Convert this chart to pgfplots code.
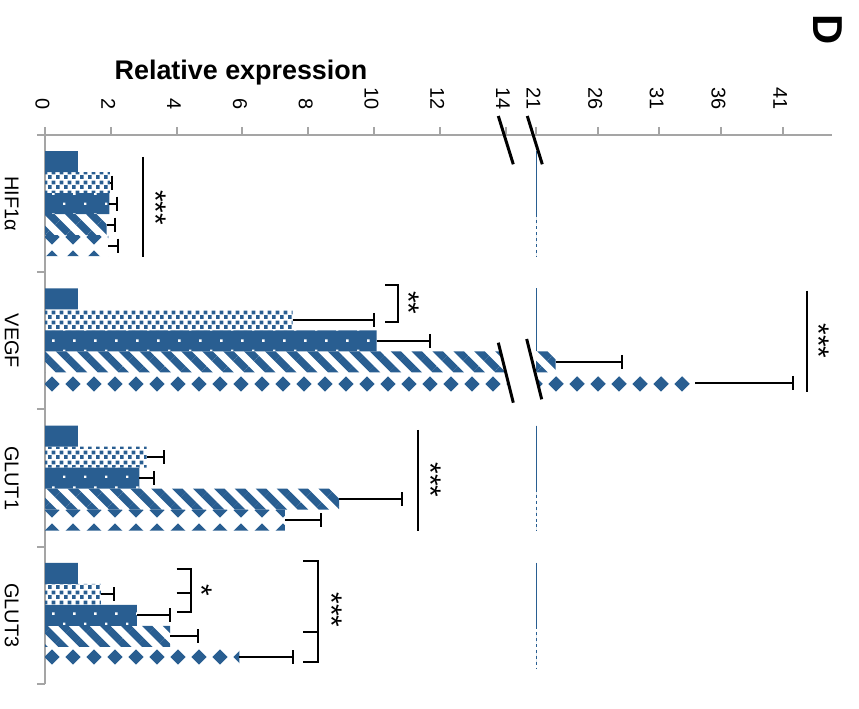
\documentclass[border=0pt]{standalone}
\usepackage{pgfplots}
\pgfplotsset{compat=1.18}
\usepackage{pgfplotstable}
\usetikzlibrary{patterns.meta}
\usepackage{fontspec}
\setmainfont{Liberation Sans}
\definecolor{mblue}{RGB}{41,94,145}
\definecolor{axgray}{RGB}{165,165,165}

\tikzdeclarepattern{name=bsq, type=uncolored,
  bounding box={(0,0) and (8bp,10bp)}, tile size={(8bp,10bp)},
  code={\fill (0bp,0bp) rectangle (4.2bp,4.2bp);
        \fill (4bp,5bp) rectangle (8.2bp,9.2bp);}}
\tikzdeclarepattern{name=bdot, type=uncolored,
  bounding box={(0,0) and (21bp,21bp)}, tile size={(21bp,21bp)},
  code={\fill (0bp,0bp) rectangle (2.6bp,2.6bp);
        \fill (10.5bp,10.5bp) rectangle (13.1bp,13.1bp);}}
\tikzdeclarepattern{name=bdia, type=uncolored,
  bounding box={(0,0) and (21bp,21bp)}, tile size={(21bp,21bp)},
  code={\fill (2.5bp,10.5bp) -- (10.5bp,18.5bp) -- (18.5bp,10.5bp) -- (10.5bp,2.5bp) -- cycle;}}

% y: 3 = HIF1a, 2 = VEGF, 1 = GLUT1, 0 = GLUT3
\pgfplotstableread{
y v e
3 1.00 0
2 1.00 0
1 1.00 0
0 1.00 0
}\sA
\pgfplotstableread{
y v e
3 1.97 0.06
2 7.53 2.47
1 3.09 0.54
0 1.70 0.41
}\sB
\pgfplotstableread{
y v e
3 1.96 0.22
2 10.08 1.62
1 2.87 0.45
0 2.79 1.01
}\sC
\pgfplotstableread{
y v e
3 1.87 0.26
2 22.6 5.4
1 8.94 1.92
0 3.80 0.86
}\sD
\pgfplotstableread{
y v e
3 1.93 0.30
2 33.9 7.9
1 7.29 1.09
0 5.91 1.62
}\sE

\pgfplotsset{
  errb/.style={error bars/.cd, x dir=plus, x explicit, error mark=|,
     error bar style={black, line width=2bp},
     error mark options={black, line width=2bp, mark size=7bp}},
  pA/.style={xbar, bar shift=0bp, fill=mblue, draw=none},
  pB/.style={xbar, bar shift=0bp, pattern=bsq, pattern color=mblue, draw=none, errb},
  pC/.style={xbar, bar shift=0bp, preaction={fill=mblue}, pattern=bdot, pattern color=white, draw=none, errb},
  pD/.style={xbar, bar shift=0bp, pattern={Lines[angle=-45,distance=14.8bp,line width=7.4bp]}, pattern color=mblue, draw=none, errb},
  pE/.style={xbar, bar shift=0bp, pattern=bdia, pattern color=mblue, draw=none, errb},
  common/.style={scale only axis, height=549bp, ymin=-0.5, ymax=3.5,
     enlargelimits=false, bar width=21bp,
     axis x line*=top, tick align=outside,
     major tick length=8bp, minor tick length=8bp,
     axis line style={axgray, line width=2bp},
     every major x tick/.append style={axgray, line width=2bp},
     /pgf/number format/assume math mode=true,
     xticklabel style={font=\fontsize{20}{24}\selectfont, xshift=-2.5bp, rotate=-90, anchor=east, inner sep=0pt},
     xticklabel shift=17bp,
  },
}

\begin{document}
\begin{tikzpicture}
\path[use as bounding box] (0,0) rectangle (859bp,709bp);

\begin{axis}[common, at={(45bp,25bp)}, anchor=south west, width=465.5bp,
   xmin=0, xmax=14.15, xtick={0,2,...,14},
   axis y line*=left,
   x axis line style={shorten >=-25.5bp},
   ytick={0,1,2,3}, yticklabels={GLUT3,GLUT1,VEGF,HIF1α},
   every major y tick/.append style={draw=none},
   minor ytick={-0.5,0.5,1.5,2.5,3.5},
   every minor y tick/.append style={axgray, line width=2bp},
   yticklabel style={font=\fontsize{20}{24}\selectfont, rotate=-90, anchor=base, inner sep=0pt},
   yticklabel shift=32bp,
]
\addplot[pA] table[x=v, y expr=\thisrow{y}+0.306] {\sA};
\addplot[pB] table[x=v, y expr=\thisrow{y}+0.153, x error=e] {\sB};
\addplot[pC] table[x=v, y=y, x error=e] {\sC};
\addplot[pD] table[x=v, y expr=\thisrow{y}-0.153, x error=e] {\sD};
\addplot[pE] table[x=v, y expr=\thisrow{y}-0.306, x error=e] {\sE};
\end{axis}

\begin{axis}[common, at={(536bp,25bp)}, anchor=south west, width=296bp,
   xmin=21, xmax=45, xtick={21,26,31,36,41},
   axis y line=none, ytick=\empty,
]
\addplot[pA] table[x=v, y expr=\thisrow{y}+0.306] {\sA};
\addplot[pB] table[x=v, y expr=\thisrow{y}+0.153, x error=e] {\sB};
\addplot[pC] table[x=v, y=y, x error=e] {\sC};
\addplot[pD] table[x=v, y expr=\thisrow{y}-0.153, x error=e] {\sD};
\addplot[pE] table[x=v, y expr=\thisrow{y}-0.306, x error=e] {\sE};
% clipped bars drawn as zero-width bars at the axis minimum
\addplot[mblue, line width=1.5bp, forget plot] coordinates {(21.0,3.3825) (21.0,2.9235)};
\addplot[mblue, line width=1.5bp, dashed, forget plot] coordinates {(21.0,2.9235) (21.0,2.6175)};
\addplot[mblue, line width=1.5bp, forget plot] coordinates {(21.0,2.3825) (21.0,1.9235)};
\addplot[mblue, line width=1.5bp, forget plot] coordinates {(21.0,1.3825) (21.0,0.9235)};
\addplot[mblue, line width=1.5bp, dashed, forget plot] coordinates {(21.0,0.9235) (21.0,0.6175)};
\addplot[mblue, line width=1.5bp, forget plot] coordinates {(21.0,0.3825) (21.0,-0.0765)};
\addplot[mblue, line width=1.5bp, dashed, forget plot] coordinates {(21.0,-0.0765) (21.0,-0.3825)};
\end{axis}

\begin{scope}[x=1bp, y=-1bp, shift={(0,709bp)}]
  % axis break
  \fill[white] (498.3,342.7) -- (513.3,402.7) -- (541.7,399.3) -- (526.7,339) -- cycle;
  \draw[black, line width=3bp] (498.3,116) -- (513.3,164.3);
  \draw[black, line width=3bp] (527.3,116) -- (542.3,164.3);
  \draw[black, line width=3bp] (498.3,342.7) -- (513.3,402.7);
  \draw[black, line width=3bp] (526.7,339) -- (541.7,399.3);
  % significance
  \begin{scope}[black, line width=2bp]
    \draw (142.7,157) -- (142.7,257);
    \draw (385,285) -- (398,285) -- (398,322) -- (385,322);
    \draw (806.7,290.7) -- (806.7,391.7);
    \draw (418.3,430) -- (418.3,530.7);
    \draw (176.7,569.3) -- (191,569.3) -- (191,611.7) -- (176.7,611.7);
    \draw (176.7,593) -- (191,593);
    \draw (303,561) -- (318.3,561) -- (318.3,662.3) -- (303,662.3);
    \draw (303,631.7) -- (318.3,631.7);
  \end{scope}
  \begin{scope}[every node/.style={rotate=-90, inner sep=0pt, font=\fontsize{30}{32}\selectfont}]
    \node at (155.7,207.5) {***};
    \node at (409,303) {**};
    \node at (818.5,341) {***};
    \node at (431,480) {***};
    \node at (201.3,590) {*};
    \node at (331.5,610) {***};
  \end{scope}
  \node[anchor=base, inner sep=0pt, font=\bfseries\fontsize{27}{30}\selectfont] at (241,80) {Relative expression};
  \node[anchor=base, rotate=-90, inner sep=0pt, font=\bfseries\fontsize{42}{46}\selectfont] at (813,29.5) {D};
\end{scope}
\end{tikzpicture}
\end{document}
